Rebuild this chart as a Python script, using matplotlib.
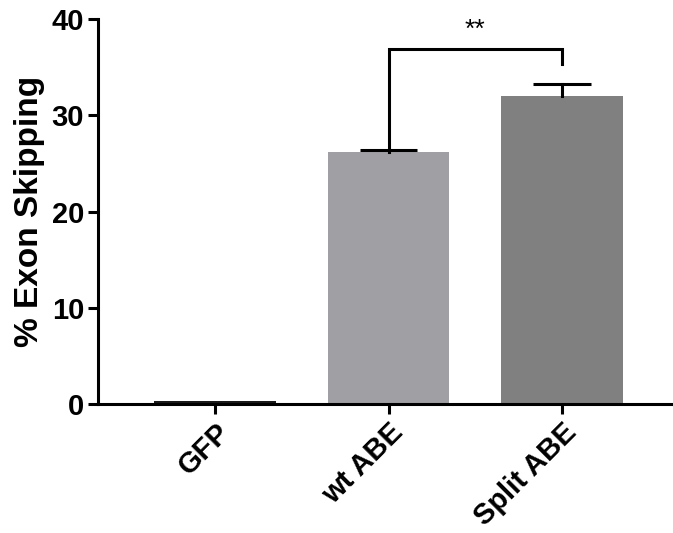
import numpy as np
import matplotlib
matplotlib.use("Agg")
import matplotlib.pyplot as plt

plt.rcParams['font.family'] = ['Liberation Sans', 'DejaVu Sans']

groups = ["GFP", "wt ABE", "Split ABE"]
means = [0.3, 26.2, 32.0]
errs = [0.0, 0.25, 1.25]
colors = ["#1a1a1a", "#a09fa4", "#808080"]

fig = plt.figure(figsize=(6.73, 5.33), dpi=100)
ax = fig.add_axes([0.1456, 0.242, 0.8544, 0.722])

x = np.arange(len(groups))
ax.bar(x, means, width=0.7, color=colors)

# upper-only error bars (SEM)
cap = 0.165
for xi, m, e in zip(x[1:], means[1:], errs[1:]):
    ax.plot([xi, xi], [m, m + e], color='black', lw=2.2)
    ax.plot([xi - cap, xi + cap], [m + e, m + e], color='black', lw=2.2,
            solid_capstyle='butt')

# significance bracket
by = 36.9
ax.plot([1, 1, 2, 2], [26.7, by, by, 35.3], color='black', lw=2.2,
        solid_joinstyle='miter', clip_on=False)
ax.text(1.5, 37.6, "**", ha='center', va='bottom', fontsize=19)

ax.set_xlim(-0.675, 2.64)
ax.set_ylim(0, 40)
ax.set_yticks([0, 10, 20, 30, 40])
ax.set_xticks(x)
ax.set_xticklabels(groups, rotation=45, ha='right', rotation_mode='anchor',
                   fontsize=21, fontweight='bold')
for lab in ax.get_yticklabels():
    lab.set_fontsize(21)
    lab.set_fontweight('bold')
ax.set_ylabel("% Exon Skipping", fontsize=24, fontweight='bold', labelpad=5)

for s in ['top', 'right']:
    ax.spines[s].set_visible(False)
for s in ['left', 'bottom']:
    ax.spines[s].set_linewidth(2.2)
ax.tick_params(width=2.2, length=7, pad=3)

fig.savefig("out.png", dpi=100)
